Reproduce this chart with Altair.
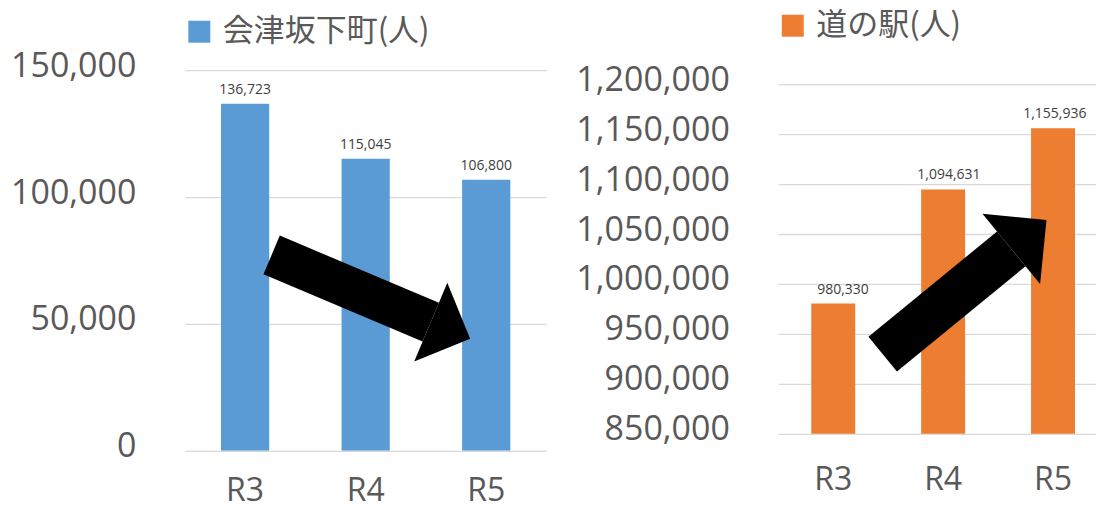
import altair as alt
import pandas as pd

# ---- data ----
years = ["R3", "R4", "R5"]
town_values = [136723, 115045, 106800]
station_values = [980330, 1094631, 1155936]
town_label = "会津坂下町(人)"
station_label = "道の駅(人)"
town_ticks = [0, 50000, 100000, 150000]
station_ticks = [850000, 900000, 950000, 1000000, 1050000, 1100000, 1150000, 1200000]

# arrow annotations: tail / head-base positions (x in category-band units, y in data units)
town_arrow_x = [0.72, 2.04]
town_arrow_y = [77200, 50700]
station_arrow_x = [0.95, 2.12]
station_arrow_y = [929800, 1035100]

BLUE = "#5B9BD5"
ORANGE = "#ED7D31"
LABEL_COLOR = "#595959"
HEAD_PATH = "M 0 -1 L 1 0 L 0 1 Z"


def panel(values, label, color, ticks, ydomain, width, height, xscale_kw,
          arrow_x, arrow_y, arrow_domain, shaft_w, head_size, head_angle,
          legend_y, xlabel_pad):
    df = pd.DataFrame({"year": years, "value": values, "series": [label] * len(years)})
    adf = pd.DataFrame({"ax": [arrow_x[0]], "ax2": [arrow_x[1]],
                        "ay": [arrow_y[0]], "ay2": [arrow_y[1]]})

    yscale = alt.Scale(domain=ydomain, nice=False, zero=False)
    yaxis = alt.Axis(values=ticks, format=",.0f", title=None, labelFontSize=34,
                     labelFont="Open Sans", labelColor=LABEL_COLOR, labelPadding=49,
                     ticks=False, tickSize=0, domain=False, grid=True,
                     gridColor="#D9D9D9", gridWidth=1.3, labelOffset=-4)
    xscale = alt.Scale(**xscale_kw)
    xenc = alt.X("year:N", sort=years, scale=xscale,
                 axis=alt.Axis(title=None, labelAngle=0, labelFontSize=32,
                               labelFont="Open Sans", labelColor=LABEL_COLOR,
                               labelPadding=xlabel_pad, domain=False, ticks=False,
                               tickSize=0, grid=False))
    base = alt.Chart(df)
    bars = base.mark_bar(clip=True).encode(
        x=xenc,
        y=alt.Y("value:Q", scale=yscale, axis=yaxis),
        color=alt.Color("series:N", scale=alt.Scale(domain=[label], range=[color]),
                        legend=alt.Legend(title=None, orient="none", legendX=-1,
                                          legendY=legend_y, symbolType="square",
                                          symbolSize=484, symbolStrokeWidth=0,
                                          labelFontSize=31, labelFont="Noto Sans CJK JP",
                                          labelColor=LABEL_COLOR, labelLimit=400,
                                          labelOffset=8, padding=0,
                                          direction="horizontal")),
    )
    text = base.mark_text(baseline="alphabetic", dy=-10, fontSize=14,
                          font="Open Sans", color="#404040").encode(
        x=alt.X("year:N", sort=years, scale=xscale, axis=None),
        y=alt.Y("value:Q", scale=yscale, axis=yaxis),
        text=alt.Text("value:Q", format=",.0f"),
    )
    ax_scale = alt.Scale(domain=arrow_domain, nice=False, zero=False)
    shaft = alt.Chart(adf).mark_rule(color="black", strokeWidth=shaft_w,
                                     strokeCap="butt").encode(
        x=alt.X("ax:Q", scale=ax_scale, axis=None),
        x2="ax2:Q",
        y=alt.Y("ay:Q", scale=yscale, axis=yaxis),
        y2="ay2:Q",
    )
    head = alt.Chart(adf).mark_point(shape=HEAD_PATH, filled=True, size=head_size,
                                     angle=head_angle, color="black", opacity=1).encode(
        x=alt.X("ax2:Q", scale=ax_scale, axis=None),
        y=alt.Y("ay2:Q", scale=yscale, axis=yaxis),
    )
    return alt.layer(bars, text, shaft, head).resolve_scale(x="independent").properties(
        width=width, height=height)


left = panel(town_values, town_label, BLUE, town_ticks, [0, 150000], 362, 381,
             dict(paddingInner=0.6, paddingOuter=0.3),
             town_arrow_x, town_arrow_y, [0, 3], 42, 7310, 22.8, -54, 25)
right = panel(station_values, station_label, ORANGE, station_ticks, [850000, 1214000],
              318, 364, dict(paddingInner=0.6, paddingOuter=0.2455, align=0.611),
              station_arrow_x, station_arrow_y, [0, 2.891], 45, 8300, 320.7, -60, 31)

chart = alt.hconcat(left, right, spacing=232, bounds="flush").resolve_scale(
    color="independent").resolve_legend(color="independent").properties(
    padding={"left": 10, "top": 10, "right": 0, "bottom": 0},
    background="white",
).configure_view(stroke=None)

chart.save("out.html", embed_options={"renderer": "svg", "actions": False})
